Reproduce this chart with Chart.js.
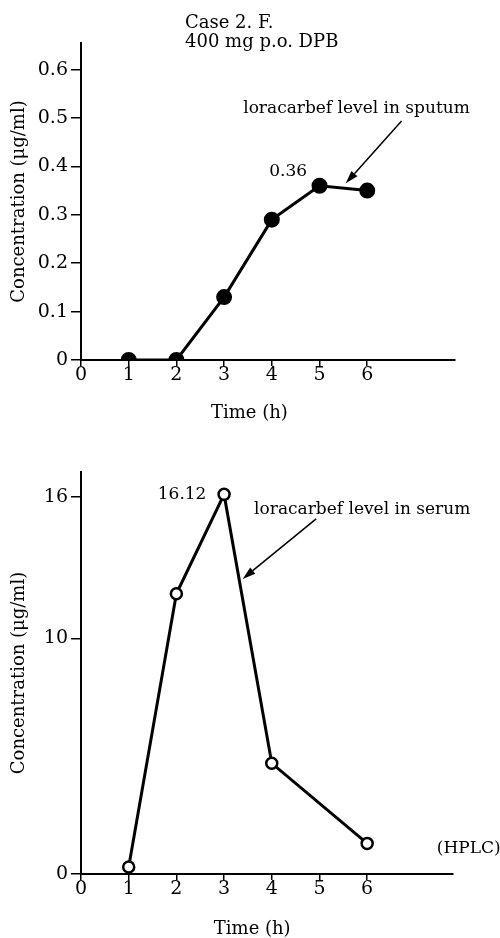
<!DOCTYPE html>
<html>
<head>
<meta charset="utf-8">
<script src="https://cdn.jsdelivr.net/npm/chart.js@4"></script>
<style>
    body { margin: 0; background: #fff; }
    .box { position: absolute; left: 0; width: 500px; }
</style>
</head>
<body>
<div class="box" style="top:0;height:450px"><canvas id="sputumChart"></canvas></div>
<div class="box" style="top:450px;height:488px"><canvas id="serumChart"></canvas></div>
<script>
// Values
const timeTicks = [0, 1, 2, 3, 4, 5, 6];

const sputumTimes = [1, 2, 3, 4, 5, 6];
const sputumLevels = [0, 0, 0.13, 0.29, 0.36, 0.35];
const sputumTicks = [0, 0.1, 0.2, 0.3, 0.4, 0.5, 0.6];

const serumTimes = [1, 2, 3, 4, 6];
const serumLevels = [0.3, 11.9, 16.12, 4.7, 1.3];
const serumTicks = [0, 10, 16];

const FONT = "'DejaVu Serif', 'Liberation Serif', serif";

// Text labels and arrows, placed in data coordinates
const notesPlugin = {
    id: "notes",
    afterDraw(chart, args, opts) {
        const ctx = chart.ctx;
        const xs = chart.scales.x, ys = chart.scales.y;
        ctx.save();
        ctx.fillStyle = "#000";
        ctx.strokeStyle = "#000";
        (opts.headers || []).forEach(h => {
            ctx.font = h.size + "px " + FONT;
            ctx.textAlign = "left";
            ctx.textBaseline = "alphabetic";
            ctx.fillText(h.text, h.px, h.py);
        });
        (opts.texts || []).forEach(t => {
            ctx.font = t.size + "px " + FONT;
            ctx.textAlign = t.align || "left";
            ctx.textBaseline = t.py !== undefined ? "middle" : "alphabetic";
            const py = t.py !== undefined ? t.py : ys.getPixelForValue(t.y);
            ctx.fillText(t.text, xs.getPixelForValue(t.x), py);
        });
        (opts.arrows || []).forEach(a => {
            const x1 = xs.getPixelForValue(a.from[0]), y1 = ys.getPixelForValue(a.from[1]);
            const x2 = xs.getPixelForValue(a.to[0]), y2 = ys.getPixelForValue(a.to[1]);
            const ang = Math.atan2(y2 - y1, x2 - x1);
            const len = 13, half = 4;
            const bx = x2 - len * Math.cos(ang), by = y2 - len * Math.sin(ang);
            ctx.lineWidth = 1.5;
            ctx.beginPath();
            ctx.moveTo(x1, y1);
            ctx.lineTo(bx, by);
            ctx.stroke();
            ctx.beginPath();
            ctx.moveTo(x2, y2);
            ctx.lineTo(bx + half * Math.sin(ang), by - half * Math.cos(ang));
            ctx.lineTo(bx - half * Math.sin(ang), by + half * Math.cos(ang));
            ctx.closePath();
            ctx.fill();
        });
        ctx.restore();
    }
};

function axisX(xMax, height) {
    return {
        type: "linear",
        min: 0,
        max: xMax,
        afterBuildTicks: s => { s.ticks = timeTicks.map(v => ({ value: v })); },
        afterFit: s => { s.height = height; },
        grid: { drawOnChartArea: false, drawTicks: true, tickLength: 6, color: "#000", lineWidth: 1.5 },
        border: { display: true, color: "#000", width: 2 },
        ticks: { color: "#000", padding: 0, autoSkip: false, maxRotation: 0,
                 font: { family: FONT, size: 19, lineHeight: 1 } },
        title: { display: false }
    };
}

function axisY(yMax, ticks) {
    return {
        min: 0,
        max: yMax,
        afterBuildTicks: s => { s.ticks = ticks.map(v => ({ value: v })); },
        afterFit: s => { s.width = 81; },
        grid: { drawOnChartArea: false, drawTicks: true, tickLength: 10, color: "#000", lineWidth: 1.5 },
        border: { display: true, color: "#000", width: 2 },
        ticks: { color: "#000", padding: 3, callback: v => String(v),
                 font: { family: FONT, size: 19 } },
        title: { display: true, text: "Concentration (\u03bcg/ml)", color: "#000",
                 font: { family: FONT, size: 18 }, padding: { top: 9, bottom: 0 } }
    };
}

// Sputum level chart
new Chart(document.getElementById("sputumChart").getContext("2d"), {
    type: "line",
    data: {
        datasets: [{
            data: sputumTimes.map((t, i) => ({ x: t, y: sputumLevels[i] })),
            borderColor: "#000",
            borderWidth: 3,
            backgroundColor: "#000",
            pointBackgroundColor: "#000",
            pointBorderColor: "#000",
            pointRadius: 6.5,
            tension: 0
        }]
    },
    options: {
        responsive: true,
        maintainAspectRatio: false,
        animation: false,
        layout: { padding: { top: 43, right: 45, bottom: 20, left: 0 } },
        plugins: {
            legend: { display: false },
            tooltip: { enabled: false },
            notes: {
                headers: [
                    { text: "Case 2. F.", px: 185, py: 28, size: 18 },
                    { text: "400 mg p.o. DPB", px: 185, py: 47, size: 18 }
                ],
                texts: [
                    { text: "loracarbef level in sputum", x: 3.4, y: 0.51, size: 17 },
                    { text: "0.36", x: 4.74, y: 0.38, size: 17, align: "right" },
                    { text: "Time (h)", x: 3.53, py: 413, size: 18, align: "center" }
                ],
                arrows: [
                    { from: [6.72, 0.494], to: [5.55, 0.365] }
                ]
            }
        },
        scales: {
            x: axisX(7.84, 70),
            y: axisY(0.655, sputumTicks)
        }
    },
    plugins: [notesPlugin]
});

// Serum level chart
new Chart(document.getElementById("serumChart").getContext("2d"), {
    type: "line",
    data: {
        datasets: [{
            data: serumTimes.map((t, i) => ({ x: t, y: serumLevels[i] })),
            borderColor: "#000",
            borderWidth: 3,
            pointBackgroundColor: "#fff",
            pointBorderColor: "#000",
            pointBorderWidth: 2.5,
            pointRadius: 5.5,
            tension: 0
        }]
    },
    options: {
        responsive: true,
        maintainAspectRatio: false,
        animation: false,
        layout: { padding: { top: 22, right: 47, bottom: 0, left: 0 } },
        plugins: {
            legend: { display: false },
            tooltip: { enabled: false },
            notes: {
                texts: [
                    { text: "16.12", x: 2.63, y: 15.94, size: 17, align: "right" },
                    { text: "loracarbef level in serum", x: 3.63, y: 15.3, size: 17 },
                    { text: "(HPLC)", x: 7.46, y: 0.9, size: 17 },
                    { text: "Time (h)", x: 3.59, py: 479, size: 18, align: "center" }
                ],
                arrows: [
                    { from: [4.93, 15.08], to: [3.39, 12.53] }
                ]
            }
        },
        scales: {
            x: axisX(7.8, 64),
            y: axisY(17.07, serumTicks)
        }
    },
    plugins: [notesPlugin]
});
</script>
</body>
</html>
